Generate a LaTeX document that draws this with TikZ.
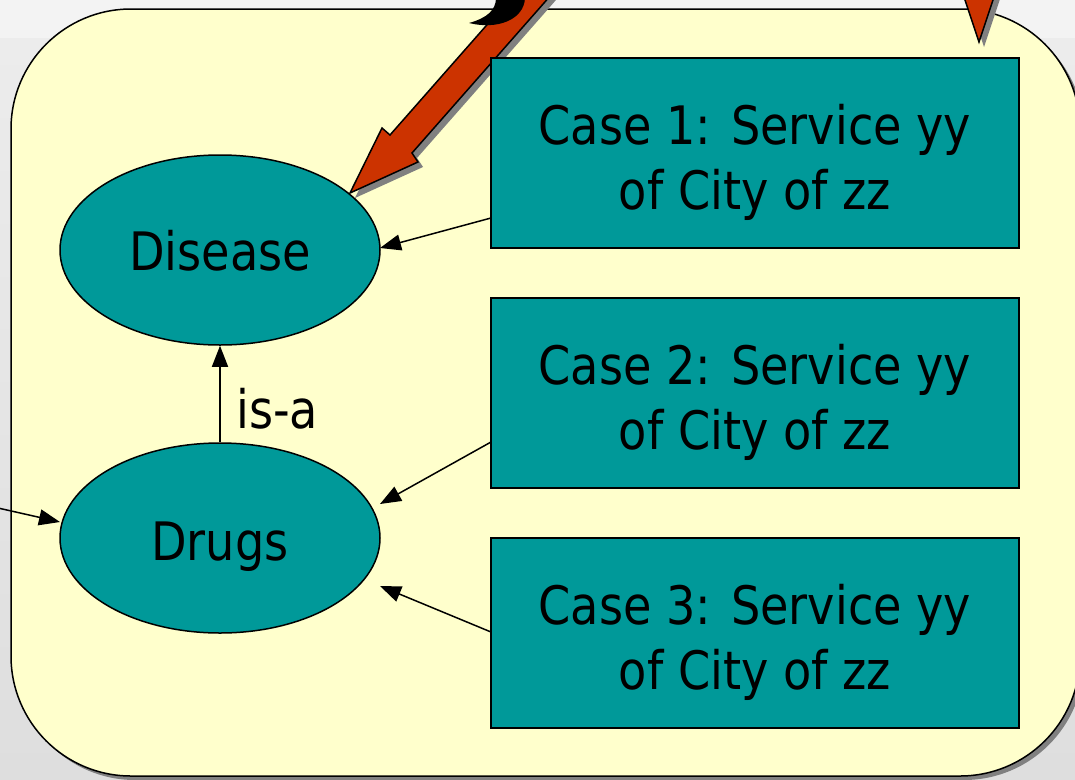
\documentclass[tikz,border=0pt]{standalone}
\usepackage{fontspec}
\setmainfont{DejaVu Sans}[FakeStretch=0.872]
\usetikzlibrary{arrows.meta,shapes.geometric}
\definecolor{paper}{HTML}{FFFFCC}
\definecolor{tealfill}{HTML}{009999}
\definecolor{brick}{HTML}{CC3300}
\definecolor{shad}{HTML}{808080}
\definecolor{bgtop}{HTML}{F3F3F3}
\definecolor{bgmid}{HTML}{ECECEC}
\definecolor{bgbot}{HTML}{DEDEDE}
\begin{document}
\begin{tikzpicture}[x=1pt,y=-1pt,
  ell/.style={ellipse,draw=black,line width=1.5pt,fill=tealfill,minimum width=320pt,minimum height=190pt,inner sep=0pt},
  casebox/.style={draw=black,line width=1.5pt,fill=tealfill,minimum width=528pt,minimum height=190pt,inner sep=0pt},
  lbl/.style={font=\fontsize{53}{65}\selectfont,inner sep=0pt,anchor=base},
  conn/.style={line width=1.5pt,-{Triangle[length=21pt,width=16pt]}},
  bigarrow/.style={fill=brick,draw=black,line width=1.5pt,line join=miter},
]
\useasboundingbox (0,0) rectangle (1075,779);
\begin{scope}
\clip (0,0) rectangle (1075,779);
% background
\fill[bgtop] (0,0) rectangle (1075,38);
\shade[top color=bgmid,bottom color=bgbot] (0,38) rectangle (1075,779);
% frame
\fill[shad,rounded corners=120pt] (15,13) rectangle (1084,780);
\draw[fill=paper,line width=1.5pt,rounded corners=120pt] (11,9) rectangle (1080,776);
% big red arrow (shadow then arrow)
\begin{scope}[shift={(5,5)}]
\fill[shad] (555,-53) -- (522,-15) -- (390,135) -- (382,128) -- (350,193) -- (418,162) -- (412,153) -- (544,3) -- (577,-35) -- cycle;
\end{scope}
\path[bigarrow] (555,-53) -- (522,-15) -- (390,135) -- (382,128) -- (350,193) -- (418,162) -- (412,153) -- (544,3) -- (577,-35) -- cycle;
% black curl
\fill[black] (496,-2) .. controls (496,10) and (487,18) .. (469,23) .. controls (497,30) and (524,20) .. (525,-2) -- cycle;
% right red arrowhead
\fill[shad] (965,-10) -- (1003,-10) -- (984,47) -- cycle;
\path[bigarrow] (960,-15) -- (998,-15) -- (979,42) -- cycle;
% ellipses
\node[ell] (disease) at (220,250) {};
\node[ell] (drugs) at (220,538) {};
% case boxes
\node[casebox] (case1) at (755,153) {};
\node[casebox] (case2) at (755,393) {};
\node[casebox] (case3) at (755,633) {};
% texts
\node[lbl] (t1a) at (755,144) {Case 1: Service yy};
\node[lbl] (t1b) at (755,209) {of City of zz};
\node[lbl] (t2a) at (755,384) {Case 2: Service yy};
\node[lbl] (t2b) at (755,449) {of City of zz};
\node[lbl] (t3a) at (755,624) {Case 3: Service yy};
\node[lbl] (t3b) at (755,689) {of City of zz};
\node[lbl] (tdis) at (220,270) {Disease};
\node[lbl] (tdrug) at (220,560) {Drugs};
% connectors
\coordinate (s1) at (491,218);
\coordinate (e1) at (380,248);
\coordinate (s2) at (491,442);
\coordinate (e2) at (380,504);
\coordinate (s3) at (491,632);
\coordinate (e3) at (380,586);
\coordinate (lin) at (-2,508);
\coordinate (lt) at (60,522);
\draw[conn] (s1) -- (e1);
\draw[conn] (s2) -- (e2);
\draw[conn] (s3) -- (e3);
\draw[conn] (lin) -- (lt);
\draw[conn] (drugs.north) -- (disease.south);
\node[lbl,anchor=base west] (isa) at (236,428) {is-a};
\end{scope}
\end{tikzpicture}
\end{document}
